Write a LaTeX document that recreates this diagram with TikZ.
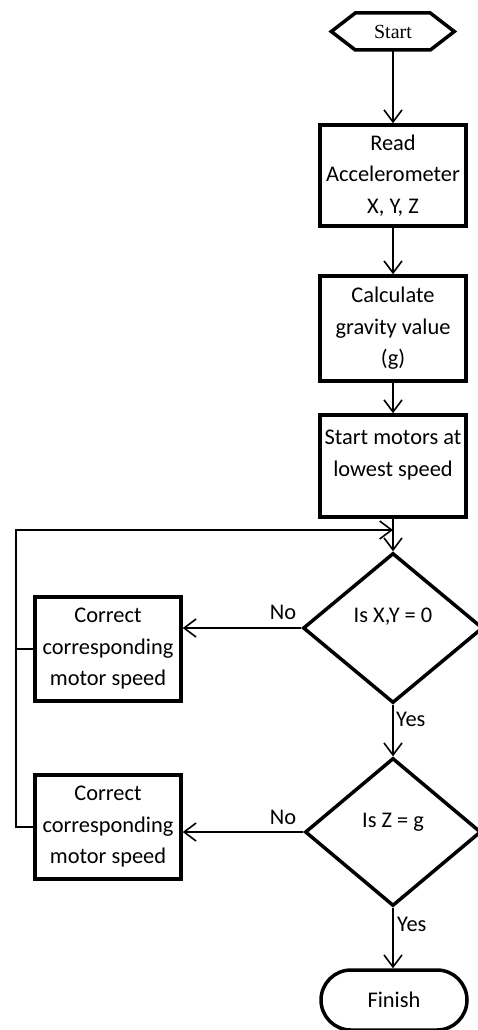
\documentclass[tikz,border=0pt]{standalone}
\usepackage{fontspec}
\setmainfont{Carlito}
\newfontfamily\startfont{Liberation Serif}
\usetikzlibrary{arrows.meta,shapes.geometric,shapes.misc}
\begin{document}
\begin{tikzpicture}[x=1pt,y=-1pt,
  box/.style={draw, line width=3.5pt, rectangle, minimum width=146pt, inner sep=0pt, align=center, font=\fontsize{22.4}{31.5}\selectfont},
  txt/.style={align=center, font=\fontsize{22.4}{31.5}\selectfont, inner sep=0pt},
  dia/.style={draw, line width=3.5pt, diamond, inner sep=0pt, line join=miter},
  conn/.style={line width=1.6pt, -{Straight Barb[length=12pt,width=18pt]}},
  plain/.style={line width=1.6pt},
  lbl/.style={font=\fontsize{22.4}{27}\selectfont, inner sep=0pt}]
\useasboundingbox (0,0) rectangle (478,1030);
% start
\node[minimum width=123pt, minimum height=37pt, inner sep=0pt, font=\startfont\fontsize{20}{24}\selectfont] (start) at (393,31.5) {Start};
\draw[line width=3.5pt, line join=miter] (start.west) -- ++(24,-18.5) -- ++(75,0) -- ++(24,18.5) -- ++(-24,18.5) -- ++(-75,0) -- cycle;
% process boxes
\node[box, minimum height=101pt] (read) at (393,175.5) {Read\\Accelerometer\\X, Y, Z};
\node[box, minimum height=105pt] (calc) at (393,328.5) {Calculate\\gravity value\\(g)};
\node[box, minimum height=102pt] (motors) at (393,466) {};
\node[txt] (motorstxt) at (393,455) {Start motors at\\lowest speed};
% decisions
\node[dia, minimum width=180pt, minimum height=150pt] (d1) at (393,628) {};
\node[txt] (d1txt) at (393,617) {Is X,Y = 0};
\node[dia, minimum width=176pt, minimum height=148pt] (d2) at (393,832) {};
\node[txt] (d2txt) at (393,822) {Is Z = g};
% correction boxes
\node[box, minimum height=104pt] (box1) at (108,649) {Correct\\corresponding\\motor speed};
\node[box, minimum height=104pt] (box2) at (108,827) {Correct\\corresponding\\motor speed};
% finish
\node[draw, line width=3.5pt, rounded rectangle, minimum width=146pt, minimum height=60pt, inner sep=0pt, font=\fontsize{22.4}{27}\selectfont] (finish) at (394,1000) {Finish};
% loop coordinates
\coordinate (lc) at (16,530);
\coordinate (jn) at (393,530);
% connectors
\draw[conn] (start) -- (read);
\draw[conn] (read) -- (calc);
\draw[conn] (calc) -- (motors);
\draw[conn] (motors) -- (d1);
\draw[conn] (d1.west) -- (d1.west -| box1.east);
\draw[conn] (d2.west) -- (d2.west -| box2.east);
\draw[conn] (d1.south) -- (d2.north);
\draw[conn] (d2.south) -- (d2.south |- finish.north);
\draw[conn] (box2.west) -| (lc) -- (jn);
\draw[plain] (box1.west) -- (box1.west -| lc);
% labels
\node[lbl] (no1) at (283,612) {No};
\node[lbl] (no2) at (283,817) {No};
\node[lbl, anchor=west] (yes1) at (396,719) {Yes};
\node[lbl, anchor=west] (yes2) at (397,924) {Yes};
\end{tikzpicture}
\end{document}
